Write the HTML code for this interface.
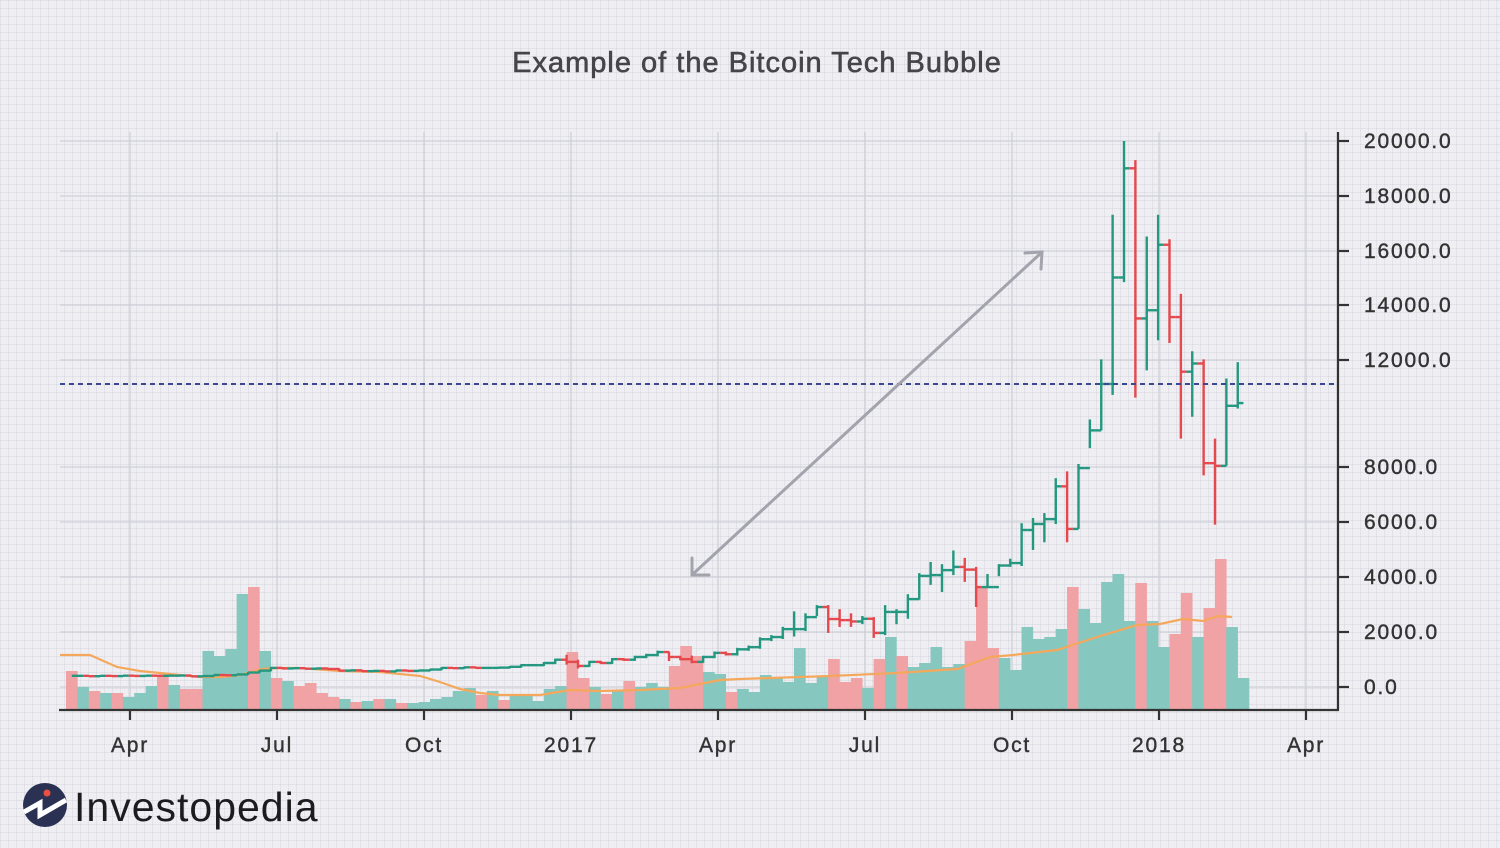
<!DOCTYPE html>
<html><head><meta charset="utf-8">
<style>
html,body{margin:0;padding:0}
body{width:1500px;height:848px;overflow:hidden;background-color:#efeff3;
background-image:
linear-gradient(to right, rgba(200,200,212,0.35) 1px, transparent 1px),
linear-gradient(to bottom, rgba(200,200,212,0.35) 1px, transparent 1px);
background-size:8px 8px;}
svg{position:absolute;left:0;top:0}
text{font-family:"Liberation Sans",sans-serif;fill:#333}
.lab{stroke:#333;stroke-width:0.4;letter-spacing:1.8px}
</style></head>
<body>
<svg id="s" width="1500" height="848" viewBox="0 0 1500 848">
<g stroke="#cfcfd8" stroke-width="1.3">
<line x1="60" y1="141" x2="1338" y2="141"/><line x1="60" y1="196" x2="1338" y2="196"/>
<line x1="60" y1="251" x2="1338" y2="251"/><line x1="60" y1="305" x2="1338" y2="305"/>
<line x1="60" y1="360" x2="1338" y2="360"/><line x1="60" y1="467" x2="1338" y2="467"/>
<line x1="60" y1="522" x2="1338" y2="522"/><line x1="60" y1="577" x2="1338" y2="577"/>
<line x1="60" y1="632" x2="1338" y2="632"/><line x1="60" y1="687" x2="1338" y2="687"/>
<line x1="130" y1="132" x2="130" y2="710"/><line x1="277" y1="132" x2="277" y2="710"/>
<line x1="424" y1="132" x2="424" y2="710"/><line x1="571" y1="132" x2="571" y2="710"/>
<line x1="718" y1="132" x2="718" y2="710"/><line x1="865" y1="132" x2="865" y2="710"/>
<line x1="1012" y1="132" x2="1012" y2="710"/><line x1="1159" y1="132" x2="1159" y2="710"/>
<line x1="1306" y1="132" x2="1306" y2="710"/>
</g>
<g id="vol"></g>
<polyline id="ma" fill="none" stroke="#f5a85c" stroke-width="2.2"/>
<g id="px"></g>
<line x1="60" y1="384" x2="1338" y2="384" stroke="#3b4a8f" stroke-width="2" stroke-dasharray="5,4"/>
<g stroke="#a3a3ad" stroke-width="3" fill="none" stroke-linecap="round">
<line x1="1041" y1="253" x2="693" y2="574"/>
<polyline points="1025,253 1042,252 1041,269"/>
<polyline points="692,558 692,575 709,575"/>
</g>
<g stroke="#333" stroke-width="2.2">
<line x1="59" y1="710" x2="1339" y2="710"/>
<line x1="1338" y1="132" x2="1338" y2="710"/>
<line x1="130" y1="710" x2="130" y2="720"/><line x1="277" y1="710" x2="277" y2="720"/>
<line x1="424" y1="710" x2="424" y2="720"/><line x1="571" y1="710" x2="571" y2="720"/>
<line x1="718" y1="710" x2="718" y2="720"/><line x1="865" y1="710" x2="865" y2="720"/>
<line x1="1012" y1="710" x2="1012" y2="720"/><line x1="1159" y1="710" x2="1159" y2="720"/>
<line x1="1306" y1="710" x2="1306" y2="720"/>
<line x1="1338" y1="141" x2="1349" y2="141"/><line x1="1338" y1="196" x2="1349" y2="196"/>
<line x1="1338" y1="251" x2="1349" y2="251"/><line x1="1338" y1="305" x2="1349" y2="305"/>
<line x1="1338" y1="360" x2="1349" y2="360"/><line x1="1338" y1="467" x2="1349" y2="467"/>
<line x1="1338" y1="522" x2="1349" y2="522"/><line x1="1338" y1="577" x2="1349" y2="577"/>
<line x1="1338" y1="632" x2="1349" y2="632"/><line x1="1338" y1="687" x2="1349" y2="687"/>
</g>
<g font-size="21" class="lab">
<text x="1364" y="148">20000.0</text><text x="1364" y="203">18000.0</text>
<text x="1364" y="258">16000.0</text><text x="1364" y="312">14000.0</text>
<text x="1364" y="367">12000.0</text><text x="1364" y="474">8000.0</text>
<text x="1364" y="529">6000.0</text><text x="1364" y="584">4000.0</text>
<text x="1364" y="639">2000.0</text><text x="1364" y="694">0.0</text>
</g>
<g font-size="21" text-anchor="middle" class="lab">
<text x="130" y="752">Apr</text><text x="277" y="752">Jul</text><text x="424" y="752">Oct</text>
<text x="571" y="752">2017</text><text x="718" y="752">Apr</text><text x="865" y="752">Jul</text>
<text x="1012" y="752">Oct</text><text x="1159" y="752">2018</text><text x="1306" y="752">Apr</text>
</g>
<text x="757" y="72" font-size="29" text-anchor="middle" style="fill:#45454a;stroke:#45454a;stroke-width:0.6;letter-spacing:1px">Example of the Bitcoin Tech Bubble</text>
<circle cx="45" cy="805" r="22" fill="#2b3152"/>
<polyline points="24,812 40,803 40,815 66,800" fill="none" stroke="#fff" stroke-width="5"/>
<circle cx="47" cy="793" r="3.5" fill="#e8503f"/>
<text x="74" y="821" font-size="41" style="fill:#1c1c1f;letter-spacing:1px">Investopedia</text>
</svg>
<script>
var NS="http://www.w3.org/2000/svg";
function el(p,t,a){var e=document.createElementNS(NS,t);for(var k in a)e.setAttribute(k,a[k]);p.appendChild(e);return e;}
var vol="r671 g687 r691 g693 r693 g697 g693 g686 r677 g685 r689 r689 g651 g656 g649 g594 r587 g651 r678 g681 r686 r683 r693 r697 g699 r702 g701 r699 g699 r703 g703 g702 g699 g697 g691 g688 r695 g691 r700 g696 g696 g701 g689 g686 r652 r678 g687 r694 g691 r681 g687 g683 g687 r666 r646 r656 g672 g674 r692 g689 g692 g675 g677 g682 g648 g683 g677 r659 r682 r678 g688 r659 g637 r656 g667 g663 g647 g667 g664 r641 r588 r648 g658 g670 g627 g639 g637 g629 r587 g609 g623 g582 g574 g621 r583 g621 g647 r634 r593 g637 r608 r559 g627 g678".split(" ");
var vg=document.getElementById("vol"),w=11.375;
vol.forEach(function(v,i){var y=+v.slice(1);el(vg,"rect",{x:(66+i*w).toFixed(2),y:y,width:(w+0.3).toFixed(2),height:710-y,fill:v[0]=="g"?"#86c7bf":"#f0a2a5"});});
var ma=[[60,655],[90,655],[117,667],[140,671],[170,674],[200,677],[222,677],[240,675],[262,669],[280,668],[300,668],[340,671],[380,672],[420,676],[440,682],[460,689],[480,693],[500,695],[540,695],[570,690],[600,691],[640,690],[680,688],[700,684],[720,680],[740,679],[770,678],[830,676],[897,673],[957,669],[990,657],[1013,655],[1057,650],[1097,637],[1137,625],[1160,624],[1183,619],[1203,621],[1218,616],[1232,617]];
document.getElementById("ma").setAttribute("points",ma.map(function(p){return p.join(",")}).join(" "));
var C=[410,395,410,400,415,405,415,410,415,420,390,400,440,430,460,530,600,700,680,690,670,680,660,600,610,580,590,570,605,590,605,640,700,690,720,700,700,710,740,800,800,880,1000,920,770,920,880,1020,1000,1100,1170,1280,1100,1020,920,1100,1250,1200,1380,1460,1750,1830,2120,2120,2560,2930,2490,2450,2400,2500,1980,2750,2750,3220,4070,4100,4280,4400,4300,3660,3660,4450,4540,5750,5970,6150,7350,5790,8020,9400,11100,15000,19000,13500,13800,16200,13550,11550,11850,8200,8100,10300,10400];
var HL={43:[1180,820],44:[1000,680],52:[1300,950],54:[1150,870],63:[2770,1850],64:[2700,2050],65:[3000,2600],66:[3000,1980],67:[2850,2200],68:[2700,2200],70:[2560,1800],71:[3000,1900],72:[2850,2300],73:[3400,2500],74:[4170,3200],75:[4580,3740],76:[4500,3480],77:[5000,4100],78:[4730,3850],79:[4400,2930],80:[4140,3630],81:[4500,4060],82:[4700,4400],83:[6000,4430],84:[6190,5020],85:[6370,5300],86:[7650,5970],87:[7900,5300],88:[8170,5790],89:[9800,8750],90:[12000,9400],91:[17300,10700],92:[20000,14830],93:[19300,10600],94:[16500,11600],95:[17300,12700],96:[16400,12600],97:[14400,9100],98:[12300,9900],99:[12000,7750],100:[9100,5950],101:[11300,8100],102:[11900,10200]};
var pg=document.getElementById("px");
function Y(v){return 687-v*0.0273;}
C.forEach(function(c,j){var o=j?C[j-1]:c;var x=77.5+11.375*j;var h,l;
if(HL[j]){h=HL[j][0];l=HL[j][1];}else{h=Math.max(o,c)*1.04;l=Math.min(o,c)*0.96;}
var col=c>=o?"#23977f":"#e5484d";var g=el(pg,"g",{stroke:col,"stroke-width":2.4});
el(g,"line",{x1:x,y1:Y(h),x2:x,y2:Y(l)});
el(g,"line",{x1:x-5.7,y1:Y(o),x2:x,y2:Y(o)});
el(g,"line",{x1:x,y1:Y(c),x2:x+5.7,y2:Y(c)});});
</script>
</body></html>
